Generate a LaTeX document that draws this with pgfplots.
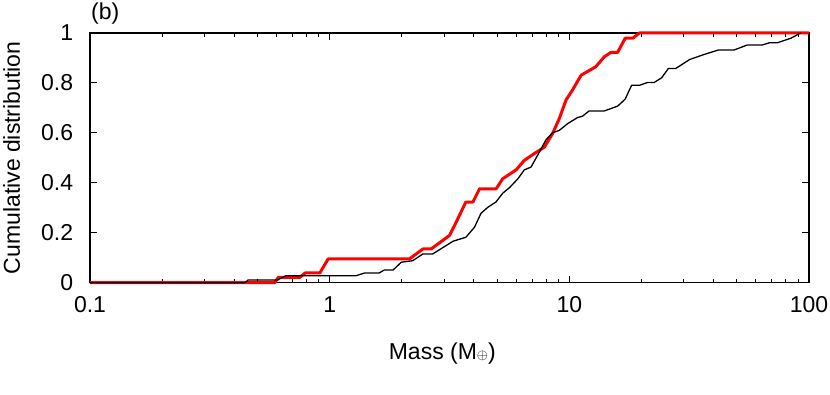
\documentclass[border=0pt]{standalone}
\usepackage{pgfplots}
\pgfplotsset{compat=1.18}
\usepackage{fontspec}
\setmainfont{Liberation Sans}
\begin{document}
\begin{tikzpicture}
\fontsize{23bp}{27bp}\selectfont
\path[use as bounding box] (-90bp,-112.3bp) rectangle (740bp,282.7bp);
\begin{axis}[
  at={(0,0)}, anchor=south west,
  scale only axis,
  width=719bp, height=249.7bp,
  xmode=log,
  xmin=0.1, xmax=100, ymin=0, ymax=1,
  xtick={0.1,1,10,100},
  xticklabels={0.1,1,10,100},
  minor xtick={0.2,0.3,0.4,0.5,0.6,0.7,0.8,0.9,2,3,4,5,6,7,8,9,20,30,40,50,60,70,80,90},
  ytick={0,0.2,0.4,0.6,0.8,1},
  yticklabels={0,0.2,0.4,0.6,0.8,1},
  tick align=inside,
  major tick length=7bp,
  minor tick length=4bp,
  every tick/.style={black, line width=1bp},
  axis line style={line width=1.2bp},
  /pgf/number format/assume math mode=true,
  ticklabel style={font=\fontsize{23bp}{27bp}\selectfont},
  yticklabel style={xshift=-9bp},
  xticklabel style={yshift=-6bp},
  label style={font=\fontsize{23bp}{27bp}\selectfont},
  xlabel={Mass (M{\fontsize{14bp}{14bp}\selectfont$\oplus$})},
  xlabel style={at={(rel axis cs:0.49,0)}, anchor=base, yshift=-77bp},
  ylabel={Cumulative distribution},
  ylabel style={at={(rel axis cs:-0.0974,0.5)}, anchor=base},
  clip=false,
]
\addplot[red, line width=3bp, line join=round] coordinates {
(0.1,0) (0.59,0) (0.61,0.021) (0.75,0.021) (0.79,0.039) (0.91,0.039)
(0.985,0.095) (2.15,0.095) (2.45,0.135) (2.65,0.135) (3.16,0.189)
(3.32,0.229) (3.70,0.323) (3.96,0.323) (4.22,0.376) (4.95,0.376)
(5.27,0.416) (6.0,0.452) (6.49,0.49) (7.14,0.517) (7.87,0.543)
(8.51,0.597) (9.08,0.657) (9.68,0.731) (10.3,0.771) (11.2,0.831)
(12.9,0.865) (14.0,0.905) (14.9,0.922) (15.9,0.922) (17.1,0.979)
(18.4,0.979) (19.6,1.0) (100,1.0)
};
\addplot[black, line width=1.3bp, line join=round] coordinates {
(0.1,0) (0.443,0) (0.457,0.011) (0.607,0.011) (0.656,0.028) (1.29,0.028)
(1.40,0.039) (1.61,0.039) (1.69,0.051) (1.84,0.051) (1.99,0.082)
(2.22,0.088) (2.45,0.115) (2.69,0.115) (3.27,0.166) (3.70,0.182)
(4.02,0.222) (4.28,0.278) (4.57,0.302) (4.94,0.323) (5.28,0.359)
(5.62,0.38) (6.1,0.416) (6.49,0.452) (6.92,0.463) (7.5,0.523)
(8.0,0.573) (8.5,0.60) (9.08,0.61) (9.84,0.637) (10.8,0.661)
(11.35,0.667) (12.1,0.688) (14.0,0.688) (15.9,0.707) (17.1,0.735)
(18.2,0.791) (19.7,0.791) (21.2,0.802) (22.6,0.802) (24.3,0.821)
(25.9,0.858) (27.8,0.858) (31.8,0.894) (36.5,0.914) (41.9,0.932)
(48.7,0.932) (55.3,0.952) (63.8,0.952) (68.5,0.961) (73.8,0.961)
(84.0,0.979) (92.3,1.0)
};
\node[anchor=base west, inner sep=0pt] at ([xshift=1bp, yshift=13bp]rel axis cs:0,1) {(b)};
\end{axis}
\end{tikzpicture}
\end{document}
